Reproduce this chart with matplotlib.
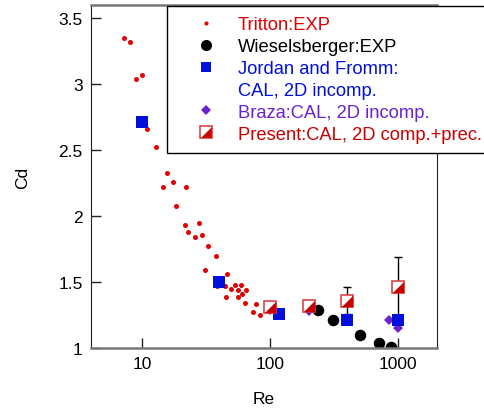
import matplotlib.pyplot as plt
from matplotlib.lines import Line2D
import numpy as np

plt.rcParams['font.family'] = ['Liberation Sans', 'DejaVu Sans']

# Tritton: EXP
tri_re = [7.2, 8.0, 9.0, 9.95, 11.0, 12.8, 15.6, 14.7, 17.3, 22.2, 18.3, 21.7, 22.8, 28.0, 25.9,
          29.6, 33.0, 38.1, 31.0, 46.1, 44.3, 38.3, 45.3, 49.1, 53.4, 56.0, 58.8, 56.0, 60.1, 64.3,
          63.4, 77.3, 73.6, 83.6]
tri_cd = [3.35, 3.32, 3.04, 3.07, 2.66, 2.52, 2.33, 2.22, 2.26, 2.22, 2.08, 1.93, 1.88, 1.95, 1.84,
          1.86, 1.77, 1.70, 1.59, 1.56, 1.47, 1.47, 1.39, 1.45, 1.48, 1.44, 1.48, 1.39, 1.41, 1.44,
          1.34, 1.33, 1.27, 1.25]
# Wieselsberger: EXP
wie_re = [237, 310, 500, 700, 880]
wie_cd = [1.29, 1.21, 1.10, 1.04, 1.005]
# Jordan and Fromm
jf_re = [10, 40, 117, 400, 1000]
jf_cd = [2.71, 1.50, 1.26, 1.21, 1.21]
# Braza
br_re = [100, 200, 840, 990]
br_cd = [1.29, 1.28, 1.21, 1.15]
# Present
pr_re = [100, 200, 400, 1000]
pr_cd = [1.31, 1.32, 1.36, 1.46]
pr_err = [0, 0, 0.10, 0.23]

red = '#e00000'
dred = '#c80000'
blue = '#0010d8'
purple = '#6a22d0'

# lower-right triangle for the half-filled square
tri_mk = [(1, -1), (1, 1), (-1, -1), (1, -1)]

fig = plt.figure(figsize=(4.84, 4.10), dpi=100)
ax = fig.add_axes([91 / 484, 1 - 349 / 410, (437 - 91) / 484, (349 - 6) / 410])

ax.plot(tri_re, tri_cd, 'o', color=red, ms=3.6, mew=0, zorder=2)
ax.plot(wie_re, wie_cd, 'o', color='black', ms=8.3, mew=0, zorder=2)
ax.plot(br_re, br_cd, 'D', color=purple, ms=5, mew=0, zorder=2)
ax.errorbar(pr_re, pr_cd, yerr=pr_err, fmt='none', ecolor='black', elinewidth=1,
            capsize=3, capthick=1, zorder=1.5)
ax.plot(jf_re, jf_cd, 's', color=blue, ms=8.3, mew=0, zorder=2.5)
ax.plot(pr_re, pr_cd, 's', mfc='white', mec='#dd4444', mew=1.2, ms=9.2, zorder=3)
ax.plot(pr_re, pr_cd, marker=tri_mk, ls='none', color=dred, mew=0, ms=8.2, zorder=3.1)

ax.set_xscale('log')
ax.set_xlim(4, 2000)
ax.set_ylim(1, 3.6)
ax.set_xticks([10, 100, 1000])
ax.set_xticklabels(['10', '100', '1000'])
ax.xaxis.set_minor_locator(plt.NullLocator())
ax.set_yticks([1, 1.5, 2, 2.5, 3, 3.5])
ax.set_yticklabels(['1', '1.5', '2', '2.5', '3', '3.5'])
ax.tick_params(direction='in', length=7, width=1, labelsize=12.5, pad=6, color='#222222')

ax.spines['top'].set_color('#777777')
ax.spines['top'].set_linewidth(1.8)
ax.spines['bottom'].set_color('#777777')
ax.spines['bottom'].set_linewidth(1.8)
ax.spines['left'].set_color('#222222')
ax.spines['right'].set_color('#222222')

ax.set_xlabel('Re', fontsize=12.5, labelpad=14)
ax.set_ylabel('Cd', fontsize=12.5, labelpad=20)

handles = [
    Line2D([], [], ls='none', marker='o', color=red, ms=3, mew=0),
    Line2D([], [], ls='none', marker='o', color='black', ms=8, mew=0),
    Line2D([], [], ls='none', marker='s', color=blue, ms=7.5, mew=0),
    Line2D([], [], ls='none', marker='none'),
    Line2D([], [], ls='none', marker='D', color=purple, ms=5, mew=0),
    (Line2D([], [], ls='none', marker='s', mfc='white', mec='#dd4444', mew=1.2, ms=8.5),
     Line2D([], [], ls='none', marker=tri_mk, color=dred, mew=0, ms=7.6)),
]
labels = ['Tritton:EXP', 'Wieselsberger:EXP', 'Jordan and Fromm:', 'CAL, 2D incomp.',
          'Braza:CAL, 2D incomp.', 'Present:CAL, 2D comp.+prec.']
colors = [red, 'black', blue, blue, purple, dred]
leg = ax.legend(handles, labels, loc='upper left', bbox_to_anchor=(167 / 484, 1 - 7 / 410),
                bbox_transform=fig.transFigure, borderaxespad=0, fontsize=13.2,
                frameon=True, fancybox=False, framealpha=1, edgecolor='black',
                borderpad=0.55, handlelength=3.2, handletextpad=0.1, labelspacing=0.27,
                labelcolor=colors)
leg.get_frame().set_linewidth(1)

fig.savefig('out.png', dpi=100)
